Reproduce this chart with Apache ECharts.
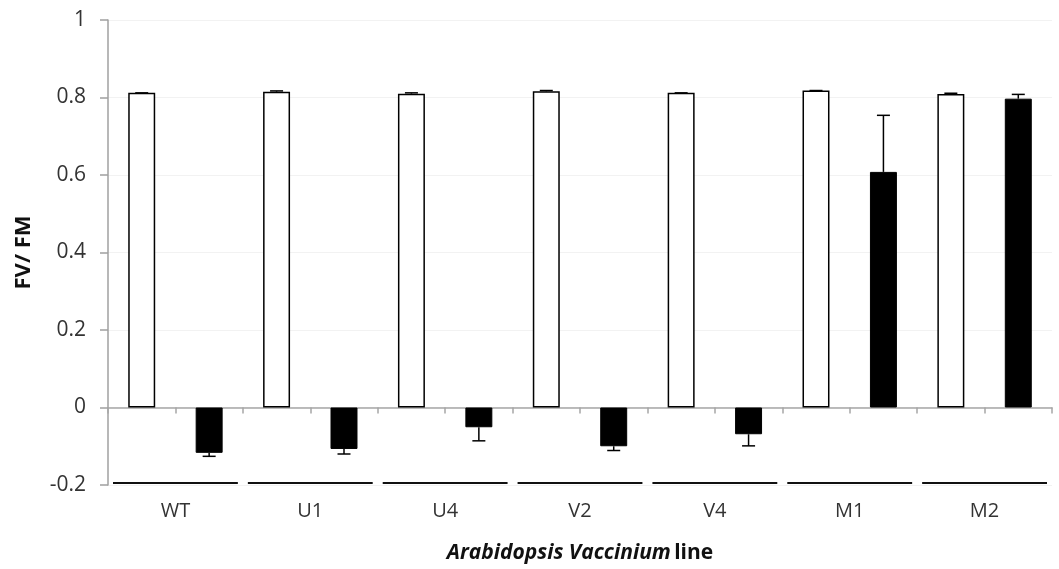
<!DOCTYPE html>
<html>
<head>
<meta charset="utf-8">
<script src="https://cdn.jsdelivr.net/npm/echarts@6/dist/echarts.min.js"></script>
<style>html,body{margin:0;padding:0;background:#fff}#c{width:1059px;height:569px}</style>
</head>
<body>
<div id="c"></div>
<script>
const groups = ['WT', 'U1', 'U4', 'V2', 'V4', 'M1', 'M2'];
const whiteValues = [0.812, 0.815, 0.810, 0.816, 0.812, 0.818, 0.809];
const whiteErrors = [0, 0.002, 0.002, 0.002, 0, 0, 0.002];
const blackValues = [-0.117, -0.107, -0.051, -0.100, -0.069, 0.608, 0.797];
const blackErrors = [0.009, 0.013, 0.035, 0.011, 0.030, 0.146, 0.011];
const yMin = -0.2, yMax = 1, yStep = 0.2;

const cats = [];
const whiteData = [];
const blackData = [];
const errData = [];
groups.forEach((g, i) => {
  cats.push(g + ' a', g + ' b');
  whiteData.push(whiteValues[i], '-');
  blackData.push('-', blackValues[i]);
  const w = whiteValues[i], b = blackValues[i];
  errData.push([2 * i, w, w + Math.sign(w) * whiteErrors[i]]);
  errData.push([2 * i + 1, b, b + Math.sign(b) * blackErrors[i]]);
});
const lineData = groups.map((g, i) => [i, yMin]);

const font = 'Open Sans';
const chart = echarts.init(document.getElementById('c'));
chart.setOption({
  animation: false,
  grid: { left: 108, right: 7, top: 20, bottom: 83 },
  xAxis: [{
    type: 'category',
    data: cats,
    axisLine: { onZero: true, lineStyle: { color: '#a6a6a6', width: 1.5 } },
    axisTick: { show: true, interval: 0, length: 6, lineStyle: { color: '#a6a6a6', width: 1.5 } },
    axisLabel: { show: false },
    splitLine: { show: false },
    name: '{i|Arabidopsis Vaccinium} {b|line}',
    nameLocation: 'middle',
    nameGap: 58,
    nameTextStyle: {
      rich: {
        i: { fontFamily: font, fontWeight: 'bold', fontStyle: 'italic', fontSize: 21, color: '#111' },
        b: { fontFamily: font, fontWeight: 'bold', fontSize: 21, color: '#111' }
      }
    }
  }, {
    type: 'category',
    data: groups,
    position: 'bottom',
    axisLine: { show: false, onZero: false },
    axisTick: { show: false },
    axisLabel: { fontFamily: font, fontSize: 20, color: '#333', margin: 16 },
    splitLine: { show: false }
  }],
  yAxis: {
    type: 'value',
    min: yMin, max: yMax, interval: yStep,
    axisLine: { show: true, lineStyle: { color: '#a0a0a0', width: 1.5 } },
    axisTick: { show: true, length: 8, lineStyle: { color: '#a0a0a0', width: 1.5 } },
    axisLabel: { fontFamily: font, fontSize: 21, color: '#333', margin: 22 },
    splitLine: { show: true, lineStyle: { color: '#f2f2f2', width: 1 } },
    name: 'FV/ FM',
    nameLocation: 'middle',
    nameGap: 73,
    nameRotate: 90,
    nameTextStyle: { fontFamily: font, fontWeight: 'bold', fontSize: 22, color: '#111' }
  },
  series: [{
    type: 'bar',
    xAxisIndex: 0,
    data: whiteData,
    barWidth: '40%',
    barGap: '-100%',
    itemStyle: { color: '#fff', borderColor: '#000', borderWidth: 1.5 }
  }, {
    type: 'bar',
    xAxisIndex: 0,
    data: blackData,
    barWidth: '40%',
    barGap: '-100%',
    itemStyle: { color: '#000', borderColor: '#000', borderWidth: 1 }
  }, {
    type: 'custom',
    xAxisIndex: 0,
    data: errData,
    z: 5,
    renderItem: function (params, api) {
      const x = api.value(0);
      const p0 = api.coord([x, api.value(1)]);
      const p1 = api.coord([x, api.value(2)]);
      const cap = 6.5;
      return {
        type: 'group',
        children: [{
          type: 'line',
          shape: { x1: p0[0], y1: p0[1], x2: p1[0], y2: p1[1] },
          style: { stroke: '#000', lineWidth: 1.5 }
        }, {
          type: 'line',
          shape: { x1: p1[0] - cap, y1: p1[1], x2: p1[0] + cap, y2: p1[1] },
          style: { stroke: '#000', lineWidth: 1.5 }
        }]
      };
    }
  }, {
    type: 'custom',
    xAxisIndex: 1,
    data: lineData,
    z: 5,
    renderItem: function (params, api) {
      const c = api.coord([api.value(0), api.value(1)]);
      const w = api.size([1, 0])[0];
      const gap = 5;
      return {
        type: 'line',
        shape: { x1: c[0] - w / 2 + gap, y1: c[1] - 2, x2: c[0] + w / 2 - gap, y2: c[1] - 2 },
        style: { stroke: '#111', lineWidth: 2.2 }
      };
    }
  }]
});
</script>
</body>
</html>
